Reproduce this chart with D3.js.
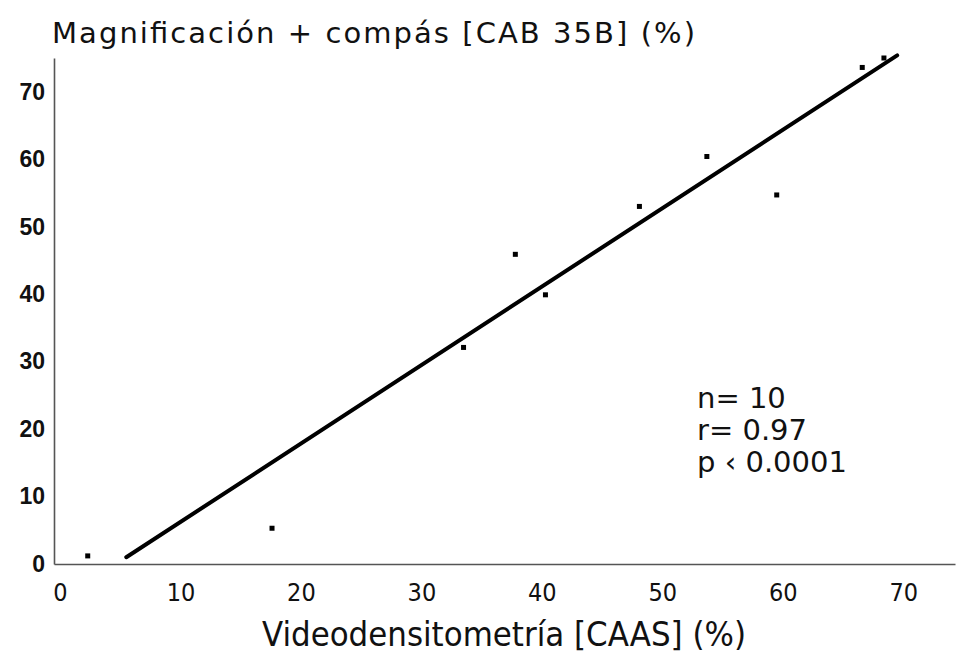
<!DOCTYPE html>
<html>
<script src='https://d3js.org/d3.v7.min.js'></script>
<style>
body {margin: 0; background: white;}
svg {display: block;}
</style>
<head>
    <title>Magnificacion vs Videodensitometria</title>
</head>
<body>
<svg id="svg1" width=959 height=653></svg>
<script>
// measured points, % stenosis
const videoX = [2.3, 17.6, 33.5, 37.8, 40.3, 48.1, 53.7, 59.5, 66.6, 68.4];
const magnifY = [1.2, 5.3, 32.1, 45.9, 39.9, 53.0, 60.4, 54.7, 73.6, 75.0];
// regression line end points
const fitX = [5.5, 69.5];
const fitY = [1.0, 75.4];
const xTicks = [0, 10, 20, 30, 40, 50, 60, 70];
const yTicks = [0, 10, 20, 30, 40, 50, 60, 70];
const statsText = ["n= 10", "r= 0.97", "p \u2039 0.0001"];

const plotLeft = 54;
const plotRight = 955;
const plotTop = 58;
const plotBottom = 564;
const narrow = "'Liberation Sans Narrow', 'DejaVu Sans Condensed', 'Liberation Sans', sans-serif";
const sans = "'Liberation Sans', Arial, sans-serif";
const wide = "'DejaVu Sans', 'Liberation Sans', sans-serif";

var svg = d3.select("#svg1");

var x = d3.scaleLinear().domain([-0.5, 74.3]).range([plotLeft, plotRight]);
var y = d3.scaleLinear().domain([0, 75]).range([plotBottom, plotTop]);

// axes, no tick marks
svg.append("g")
.attr("transform", "translate(0," + plotBottom + ")")
.call(d3.axisBottom(x).tickValues(xTicks).tickSize(0).tickPadding(19))
.call(g => g.select(".domain").attr("stroke", "#555").attr("stroke-width", 1.6))
.selectAll("text")
.style("font-family", narrow)
.style("font-size", "25px")
.attr("fill", "#111");

svg.append("g")
.attr("transform", "translate(" + plotLeft + ",0)")
.call(d3.axisLeft(y).tickValues(yTicks).tickSize(0).tickPadding(9))
.call(g => g.select(".domain").attr("stroke", "#555").attr("stroke-width", 1.6))
.selectAll("text")
.style("font-family", sans)
.style("font-size", "23px")
.style("font-weight", "bold")
.attr("fill", "#111");

// regression line
svg.append("line")
.attr("x1", x(fitX[0]))
.attr("y1", y(fitY[0]))
.attr("x2", x(fitX[1]))
.attr("y2", y(fitY[1]))
.attr("stroke", "black")
.attr("stroke-width", 4)
.attr("stroke-linecap", "round");

// points
svg.append("g")
.selectAll("rect")
.data(videoX)
.enter()
.append("rect")
.attr("x", function(d) { return x(d) - 2.5; })
.attr("y", function(d, i) { return y(magnifY[i]) - 2.5; })
.attr("width", 5)
.attr("height", 5)
.attr("fill", "black");

// titles
svg.append("text")
.attr("x", 52)
.attr("y", 43)
.attr("textLength", 643)
.attr("lengthAdjust", "spacing")
.style("font-family", wide)
.style("font-size", "29px")
.attr("fill", "#111")
.text("Magnificación + compás [CAB 35B] (%)");

svg.append("text")
.attr("x", 504)
.attr("y", 646)
.attr("textLength", 484)
.attr("lengthAdjust", "spacingAndGlyphs")
.style("text-anchor", "middle")
.style("font-family", narrow)
.style("font-size", "33px")
.attr("fill", "#111")
.text("Videodensitometría [CAAS] (%)");

svg.append("g")
.selectAll("text")
.data(statsText)
.enter()
.append("text")
.attr("x", 697)
.attr("y", function(d, i) { return 408 + i * 32; })
.style("font-family", wide)
.style("font-size", "29px")
.attr("fill", "#111")
.text(function(d) { return d; });
</script>
</body>
</html>
